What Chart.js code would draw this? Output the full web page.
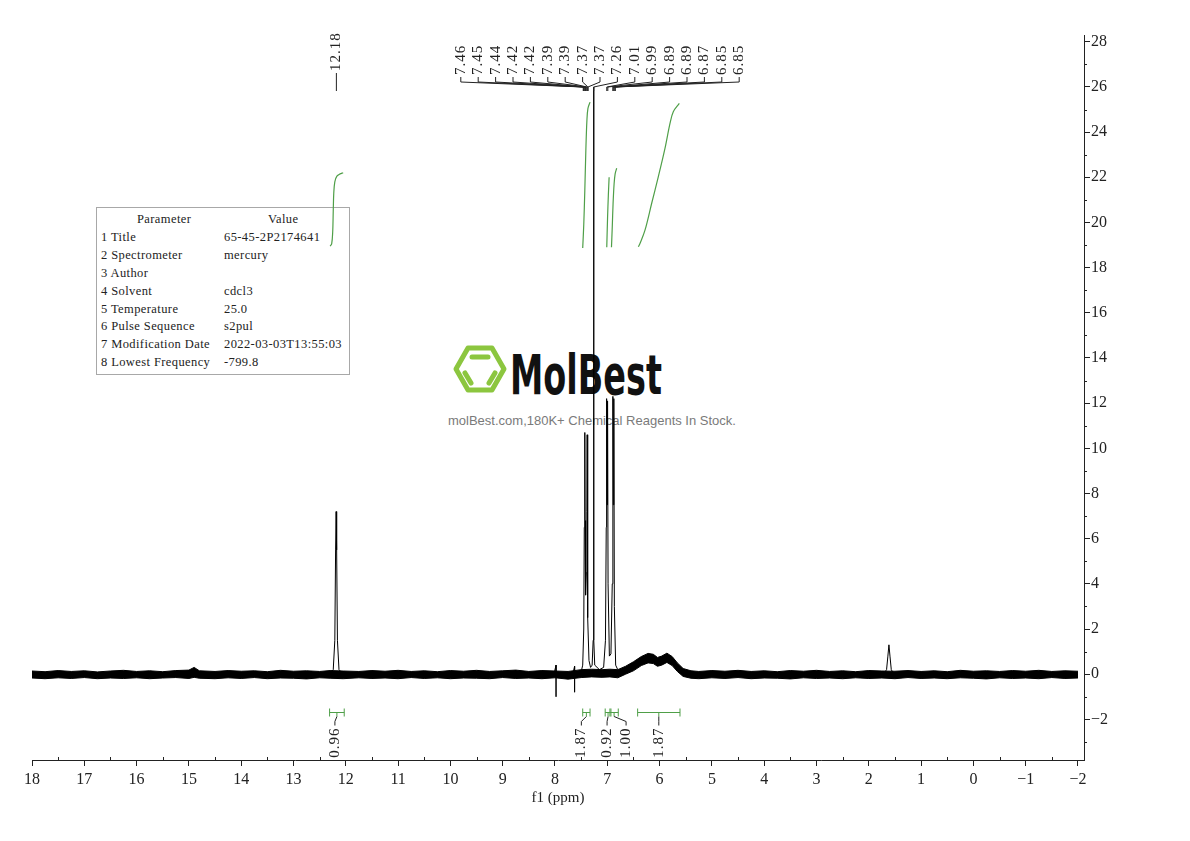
<!DOCTYPE html>
<html lang="en">
<head>
    <meta charset="UTF-8">
    <title>1H NMR spectrum</title>
    <script src="https://cdn.jsdelivr.net/npm/chart.js"></script>
    <style>
        body { margin: 0; background: #fff; }
        #wrap { position: relative; width: 1190px; height: 841px; }
        #spectrum { position: absolute; left: 0; top: 0; z-index: 2; }
        #params {
            position: absolute; left: 96px; top: 207px; width: 252px; height: 166px;
            border: 1px solid #a8a8a8; z-index: 1;
            font-family: "Liberation Serif", serif; font-size: 12.5px; letter-spacing: 0.4px; color: #222;
        }
        #params .row { position: absolute; left: 0; width: 100%; height: 18px; line-height: 18px; white-space: nowrap; }
        #params .c1 { position: absolute; left: 4px; }
        #params .c2 { position: absolute; left: 127px; }
        #params .head .c1 { left: 40px; }
        #params .head .c2 { left: 171px; }
        #logo { position: absolute; left: 448px; top: 338px; z-index: 1; }
        #slogan {
            position: absolute; left: 448px; top: 413px; z-index: 1; white-space: nowrap;
            font-family: "Liberation Sans", Arial, sans-serif; font-size: 13px; color: #7a7a7a;
        }
    </style>
</head>
<body>
<div id="wrap">
    <div id="params"></div>

    <svg id="logo" width="230" height="62" viewBox="0 0 230 62">
        <g fill="none" stroke="#8cc63f" stroke-width="5" stroke-linejoin="round" stroke-linecap="round">
            <path d="M8 31 L20 10 L44 10 L56 31 L44 52 L20 52 Z"/>
            <path d="M24 19 L40 19"/>
            <path d="M17 35 L23 45"/>
            <path d="M47 35 L41 45"/>
        </g>
        <text x="62" y="56" font-family="DejaVu Sans" font-weight="bold" font-size="56" fill="#111"
              textLength="152" lengthAdjust="spacingAndGlyphs">MolBest</text>
    </svg>
    <div id="slogan">molBest.com,180K+ Chemical Reagents In Stock.</div>

    <canvas id="spectrum" width="1190" height="841"></canvas>
</div>

<script>
    // axis ticks
    const xTicks = [18, 17, 16, 15, 14, 13, 12, 11, 10, 9, 8, 7, 6, 5, 4, 3, 2, 1, 0, -1, -2];
    const yTicks = [-2, 0, 2, 4, 6, 8, 10, 12, 14, 16, 18, 20, 22, 24, 26, 28];

    // spectrum lines (ppm / intensity); null = no line (baseline is the noise band)
    const peakPpm = [12.32, 12.24, 12.21, 12.195, 12.185, 12.175, 12.16, 12.13, 12.05, 10,
        8.02, 7.98, 7.98, 7.98, 7.94, 7.66, 7.625, 7.625, 7.625, 7.58,
        7.50, 7.47, 7.45, 7.44, 7.43, 7.425, 7.415, 7.40, 7.39, 7.385, 7.38, 7.37, 7.35, 7.32,
        7.29, 7.27, 7.262, 7.255, 7.24, 7.15, 7.07, 7.035, 7.02, 7.013, 7.005, 6.995, 6.985,
        6.96, 6.93, 6.905, 6.893, 6.885, 6.875, 6.865, 6.84, 6.80, 6.75, 4,
        1.72, 1.66, 1.635, 1.615, 1.595, 1.57, 1.52];
    const peakInt = [0, 0.2, 1.5, 5.5, 7.2, 5.5, 1.5, 0.2, 0, null,
        0, 0.4, -1.0, 0, 0, 0, 0.35, -0.8, 0, 0,
        0.1, 0.4, 2.0, 6.5, 10.7, 6.8, 3.5, 4.5, 7.2, 10.6, 6.5, 2.5, 0.6, 0.3,
        0.4, 1.5, 26, 1.5, 0.4, 0.2, 0.3, 1.5, 6.5, 12.2, 7.5, 12.1, 4,
        0.8, 0.9, 4, 12.3, 7.5, 12.2, 3, 0.4, 0.2, 0.1, null,
        0, 0.2, 0.8, 1.3, 0.8, 0.2, 0];

    // baseline noise band (upper / lower edge)
    const noisePpm = [18, 17.75, 17.5, 17.25, 17, 16.75, 16.5, 16.25, 16, 15.75,
        15.5, 15.25, 15, 14.9, 14.8, 14.5, 14.25, 14, 13.75, 13.5,
        13.25, 13, 12.75, 12.5, 12.3, 12.05, 11.75, 11.5, 11.25, 11,
        10.75, 10.5, 10.25, 10, 9.75, 9.5, 9.25, 9, 8.75, 8.5,
        8.25, 8, 7.75, 7.5, 7.3, 7.1, 6.95, 6.8, 6.65, 6.5,
        6.35, 6.22, 6.12, 6.04, 5.96, 5.86, 5.76, 5.66, 5.55, 5.4,
        5.25, 5, 4.75, 4.5, 4.25, 4, 3.75, 3.5, 3.25, 3,
        2.75, 2.5, 2.25, 2, 1.75, 1.5, 1.25, 1, 0.75, 0.5,
        0.25, 0, -0.25, -0.5, -0.75, -1, -1.25, -1.5, -1.75, -2];
    const noiseHigh = [0.14, 0.11, 0.16, 0.12, 0.15, 0.10, 0.14, 0.17, 0.12, 0.15,
        0.11, 0.16, 0.18, 0.3, 0.15, 0.12, 0.16, 0.13, 0.15, 0.11,
        0.17, 0.13, 0.15, 0.12, 0.16, 0.14, 0.12, 0.16, 0.13, 0.17,
        0.12, 0.15, 0.11, 0.16, 0.13, 0.17, 0.12, 0.15, 0.18, 0.12,
        0.16, 0.14, 0.12, 0.2, 0.22, 0.2, 0.22, 0.2, 0.35, 0.55,
        0.78, 0.92, 0.88, 0.74, 0.8, 0.93, 0.78, 0.5, 0.25, 0.15,
        0.12, 0.16, 0.13, 0.17, 0.12, 0.15, 0.11, 0.16, 0.13, 0.17,
        0.12, 0.15, 0.11, 0.16, 0.14, 0.13, 0.16, 0.12, 0.15, 0.11,
        0.17, 0.13, 0.15, 0.12, 0.16, 0.13, 0.17, 0.12, 0.15, 0.13];
    const noiseLow = [-0.17, -0.2, -0.16, -0.19, -0.15, -0.2, -0.17, -0.19, -0.16, -0.2,
        -0.17, -0.15, -0.19, -0.14, -0.18, -0.2, -0.16, -0.19, -0.15, -0.2,
        -0.17, -0.18, -0.21, -0.16, -0.18, -0.2, -0.16, -0.19, -0.17, -0.2,
        -0.15, -0.19, -0.16, -0.2, -0.17, -0.18, -0.2, -0.15, -0.19, -0.17,
        -0.2, -0.16, -0.22, -0.15, -0.12, -0.14, -0.12, -0.16, 0.0, 0.15,
        0.38, 0.5, 0.47, 0.35, 0.4, 0.52, 0.38, 0.12, -0.1, -0.18,
        -0.2, -0.16, -0.19, -0.15, -0.2, -0.17, -0.18, -0.21, -0.16, -0.19,
        -0.17, -0.2, -0.16, -0.19, -0.17, -0.2, -0.15, -0.19, -0.17, -0.2,
        -0.16, -0.18, -0.21, -0.16, -0.19, -0.17, -0.2, -0.15, -0.19, -0.17];

    // integral curves
    const int1Ppm = [12.30, 12.27, 12.25, 12.24, 12.23, 12.21, 12.17, 12.11, 12.05];
    const int1Val = [18.95, 19.05, 19.6, 20.5, 21.3, 21.8, 22.05, 22.15, 22.2];
    const int2Ppm = [7.47, 7.45, 7.43, 7.41, 7.39, 7.37, 7.33];
    const int2Val = [18.87, 19.9, 21.4, 23.2, 24.5, 25.05, 25.33];
    const int3Ppm = [7.01, 6.995, 6.98, 6.965];
    const int3Val = [18.9, 20.2, 21.2, 22.0];
    const int4Ppm = [6.92, 6.905, 6.89, 6.87, 6.85, 6.82];
    const int4Val = [18.9, 19.8, 20.8, 21.7, 22.15, 22.4];
    const int5Ppm = [6.407, 6.375, 6.279, 6.151, 6.025, 5.897, 5.801, 5.738, 5.623];
    const int5Val = [18.92, 19.07, 19.66, 20.85, 22.02, 23.28, 24.39, 24.9, 25.27];

    // integration ranges and values
    const rangeFrom = [12.31, 7.47, 7.04, 6.95, 6.42];
    const rangeTo = [12.03, 7.33, 6.93, 6.79, 5.61];
    const rangeValues = ['0.96', '1.87', '0.92', '1.00', '1.87'];

    // peak picking labels
    const singlePeaks = [12.18];
    const multipletPeaks = [7.46, 7.45, 7.44, 7.42, 7.42, 7.39, 7.39, 7.37, 7.37, 7.26,
        7.01, 6.99, 6.89, 6.89, 6.87, 6.85, 6.85];

    // parameter table
    const paramNames = ['1 Title', '2 Spectrometer', '3 Author', '4 Solvent', '5 Temperature',
        '6 Pulse Sequence', '7 Modification Date', '8 Lowest Frequency'];
    const paramValues = ['65-45-2P2174641', 'mercury', '', 'cdcl3', '25.0', 's2pul',
        '2022-03-03T13:55:03', '-799.8'];

    const box = document.getElementById('params');
    const rows = [['Parameter', 'Value']].concat(paramNames.map((n, i) => [n, paramValues[i]]));
    rows.forEach((r, i) => {
        const row = document.createElement('div');
        row.className = 'row' + (i === 0 ? ' head' : '');
        row.style.top = (2 + i * 17.9) + 'px';
        row.innerHTML = '<span class="c1"></span><span class="c2"></span>';
        row.children[0].textContent = r[0];
        row.children[1].textContent = r[1];
        box.appendChild(row);
    });

    const pts = (xs, ys) => xs.map((v, i) => ({ x: v, y: ys[i] }));
    const green = '#4f9f48';
    const ink = '#222';
    const serif = '"Liberation Serif", "DejaVu Serif", serif';

    const annotations = {
        id: 'annotations',
        afterDraw(chart) {
            const { ctx, scales: { x, y } } = chart;
            const axisY = chart.chartArea.bottom;
            const axisX = chart.chartArea.right;
            ctx.save();
            ctx.strokeStyle = ink;
            ctx.lineWidth = 1;

            // minor ticks
            ctx.beginPath();
            for (let i = 0; i < xTicks.length - 1; i++) {
                const px = Math.round(x.getPixelForValue((xTicks[i] + xTicks[i + 1]) / 2)) + 0.5;
                ctx.moveTo(px, axisY);
                ctx.lineTo(px, axisY - 3);
            }
            for (let v = yTicks[0] - 1; v < yTicks[yTicks.length - 1]; v += 2) {
                const py = Math.round(y.getPixelForValue(v)) + 0.5;
                ctx.moveTo(axisX, py);
                ctx.lineTo(axisX + 3, py);
            }
            ctx.stroke();

            ctx.fillStyle = ink;
            ctx.font = '15px ' + serif;
            ctx.letterSpacing = '1px';
            ctx.textBaseline = 'middle';

            // single peak label
            singlePeaks.forEach(p => {
                const px = x.getPixelForValue(p);
                ctx.beginPath();
                ctx.moveTo(px, 73);
                ctx.lineTo(px, 91);
                ctx.stroke();
                ctx.save();
                ctx.translate(px, 71);
                ctx.rotate(-Math.PI / 2);
                ctx.textAlign = 'left';
                ctx.fillText(p.toFixed(2), 0, 0);
                ctx.restore();
            });

            // multiplet labels with connectors
            const n = multipletPeaks.length;
            const step = 17.4;
            const first = 600 - step * (n - 1) / 2;
            multipletPeaks.forEach((p, i) => {
                const lx = first + i * step;
                const px = x.getPixelForValue(p);
                ctx.beginPath();
                ctx.moveTo(lx, 77);
                ctx.lineTo(lx, 82);
                ctx.lineTo(px, 87);
                ctx.lineTo(px, 91);
                ctx.stroke();
                ctx.save();
                ctx.translate(lx, 75);
                ctx.rotate(-Math.PI / 2);
                ctx.textAlign = 'left';
                ctx.fillText(p.toFixed(2), 0, 0);
                ctx.restore();
            });

            // integration brackets
            const labelShift = [-2, -5, -1, 12, 0];
            const yb = Math.round(y.getPixelForValue(-1.67)) + 0.5;
            rangeFrom.forEach((from, i) => {
                const x1 = x.getPixelForValue(from);
                const x2 = x.getPixelForValue(rangeTo[i]);
                const cx = (x1 + x2) / 2;
                const lx = cx + labelShift[i];
                ctx.strokeStyle = green;
                ctx.beginPath();
                ctx.moveTo(x1, yb); ctx.lineTo(x2, yb);
                ctx.moveTo(x1, yb - 4); ctx.lineTo(x1, yb + 4);
                ctx.moveTo(x2, yb - 4); ctx.lineTo(x2, yb + 4);
                ctx.moveTo(cx, yb); ctx.lineTo(cx, yb + 4);
                ctx.stroke();
                ctx.strokeStyle = ink;
                ctx.beginPath();
                ctx.moveTo(cx, yb + 4);
                ctx.lineTo(lx, yb + 9);
                ctx.lineTo(lx, yb + 13);
                ctx.stroke();
                ctx.save();
                ctx.translate(lx, yb + 15);
                ctx.rotate(-Math.PI / 2);
                ctx.textAlign = 'right';
                ctx.fillText(rangeValues[i], 0, 0);
                ctx.restore();
            });
            ctx.restore();
        }
    };

    const integralStyle = {
        borderColor: green, borderWidth: 1.2, pointRadius: 0, tension: 0.35, fill: false, order: 1
    };

    new Chart(document.getElementById('spectrum'), {
        type: 'line',
        data: {
            datasets: [
                { data: pts(peakPpm, peakInt), borderColor: '#000', borderWidth: 1, pointRadius: 0,
                  spanGaps: false, order: 0 },
                { data: pts(noisePpm, noiseHigh), borderColor: '#000', borderWidth: 1, pointRadius: 0,
                  fill: '+1', backgroundColor: '#000', order: 2 },
                { data: pts(noisePpm, noiseLow), borderColor: '#000', borderWidth: 1, pointRadius: 0, order: 2 },
                Object.assign({ data: pts(int1Ppm, int1Val) }, integralStyle),
                Object.assign({ data: pts(int2Ppm, int2Val) }, integralStyle),
                Object.assign({ data: pts(int3Ppm, int3Val) }, integralStyle),
                Object.assign({ data: pts(int4Ppm, int4Val) }, integralStyle),
                Object.assign({ data: pts(int5Ppm, int5Val) }, integralStyle)
            ]
        },
        options: {
            responsive: false,
            animation: false,
            layout: { padding: { left: 32, top: 35, right: 0, bottom: 0 } },
            plugins: { legend: { display: false }, tooltip: { enabled: false } },
            scales: {
                x: {
                    type: 'linear',
                    reverse: true,
                    min: -2.115,
                    max: 18,
                    afterBuildTicks: s => { s.ticks = xTicks.map(v => ({ value: v })); },
                    afterFit: s => { s.height = 81; },
                    grid: { drawOnChartArea: false, tickLength: 6, color: ink },
                    border: { color: ink },
                    ticks: {
                        padding: 4, color: ink, maxRotation: 0, autoSkip: false,
                        font: { family: serif, size: 16 },
                        callback: v => String(v).replace('-', '\u2212')
                    },
                    title: {
                        display: true, text: 'f1 (ppm)', color: ink,
                        font: { family: serif, size: 15 }, padding: { top: 0, bottom: 34 }
                    }
                },
                y: {
                    type: 'linear',
                    position: 'right',
                    min: -3.8,
                    max: 28.3,
                    afterBuildTicks: s => { s.ticks = yTicks.map(v => ({ value: v })); },
                    afterFit: s => { s.width = 106; },
                    grid: { drawOnChartArea: false, tickLength: 6, color: ink },
                    border: { color: ink },
                    ticks: {
                        padding: 1, color: ink, autoSkip: false,
                        font: { family: serif, size: 16 },
                        callback: v => String(v).replace('-', '\u2212')
                    }
                }
            }
        },
        plugins: [annotations]
    });
</script>
</body>
</html>
